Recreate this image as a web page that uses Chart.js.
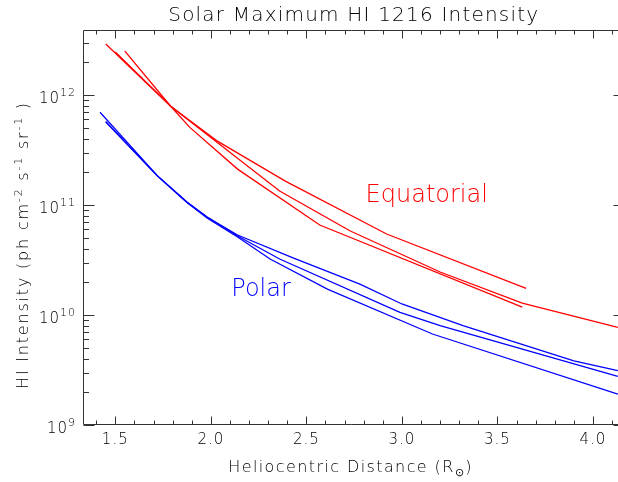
<!DOCTYPE html>
<html>
<head>
<meta charset="utf-8">
<title>Solar Maximum HI 1216 Intensity</title>
<script src="https://cdn.jsdelivr.net/npm/chart.js@4.4.1/dist/chart.umd.min.js"></script>
<style>
    html, body { margin: 0; padding: 0; background: #fff; }
    canvas { display: block; }
</style>
</head>
<body>
<canvas id="intensityChart" width="618" height="482"></canvas>
<script>
// heliocentric distance (R_sun) and HI 1216 intensity (ph cm^-2 s^-1 sr^-1)
const eqDistA = [1.50, 1.79, 2.03, 2.39, 2.92, 3.65];
const eqIntA  = [2.46e12, 7.9e11, 3.85e11, 1.65e11, 5.45e10, 1.75e10];
const eqDistB = [1.55, 1.79, 1.89, 2.14, 2.57, 3.63];
const eqIntB  = [2.51e12, 7.9e11, 5.08e11, 2.12e11, 6.58e10, 1.18e10];
const eqDistC = [1.45, 1.79, 2.36, 2.73, 3.20, 3.63, 4.13];
const eqIntC  = [2.91e12, 7.9e11, 1.34e11, 5.8e10, 2.46e10, 1.285e10, 7.73e9];

const poDistA = [1.42, 1.72, 1.875, 1.98, 2.14, 2.36, 2.99, 3.20, 4.13];
const poIntA  = [6.97e11, 1.85e11, 1.065e11, 7.78e10, 5.23e10, 3.23e10, 1.058e10, 7.99e9, 2.77e9];
const poDistB = [1.45, 1.72, 1.875, 1.98, 2.14, 2.31, 2.61, 3.16, 4.13];
const poIntB  = [5.71e11, 1.84e11, 1.054e11, 7.62e10, 5.12e10, 3.23e10, 1.72e10, 6.72e9, 1.91e9];
const poDistC = [1.45, 1.72, 1.875, 1.98, 2.14, 2.43, 2.78, 3.00, 3.32, 3.90, 4.13];
const poIntC  = [5.71e11, 1.84e11, 1.058e11, 7.78e10, 5.34e10, 3.30e10, 1.91e10, 1.26e10, 7.99e9, 3.82e9, 3.12e9];

const xTickValues = [1.5, 2.0, 2.5, 3.0, 3.5, 4.0];
const yTickValues = [1e9, 1e10, 1e11, 1e12];
const yTickExps   = ['9', '10', '11', '12'];

const FONT = 'DejaVu Sans';
const WEIGHT = 200;
const RED = '#ff0000';
const BLUE = '#0000ff';

const toPoints = (xs, ys) => xs.map((x, i) => ({ x: x, y: ys[i] }));

const curve = (xs, ys, color) => ({
    data: toPoints(xs, ys),
    borderColor: color,
    borderWidth: 1.3,
    pointRadius: 0,
    tension: 0,
    fill: false
});

// draws a run of [text, size, rise] pieces on one baseline
const drawRich = (ctx, parts, x, y, align) => {
    let total = 0;
    parts.forEach(p => {
        ctx.font = `${WEIGHT} ${p[1]}px "${FONT}"`;
        total += ctx.measureText(p[0]).width;
    });
    let cx = align === 'center' ? x - total / 2 : align === 'right' ? x - total : x;
    ctx.textAlign = 'left';
    ctx.textBaseline = 'alphabetic';
    parts.forEach(p => {
        ctx.font = `${WEIGHT} ${p[1]}px "${FONT}"`;
        ctx.fillText(p[0], cx, y - p[2]);
        cx += ctx.measureText(p[0]).width;
    });
};

// IDL-style frame: box, inward ticks, labels, titles and region names
const axisFrame = {
    id: 'axisFrame',
    afterDraw(chart) {
        const { ctx, chartArea, scales } = chart;
        const { left, top, right, bottom } = chartArea;
        const x = scales.x;
        const y = scales.y;
        const L = Math.round(left) + 0.5;
        const R = Math.round(right) + 6.5;   // right axis sits just past the canvas edge
        const T = Math.round(top) + 0.5;
        const B = Math.round(bottom) - 0.5;

        ctx.save();
        ctx.strokeStyle = '#333';
        ctx.lineWidth = 1;
        ctx.beginPath();
        ctx.moveTo(R, T); ctx.lineTo(L, T); ctx.lineTo(L, B); ctx.lineTo(R, B); ctx.lineTo(R, T);

        for (let i = 14; i <= 41; i++) {
            const px = Math.round(x.getPixelForValue(i / 10)) + 0.5;
            const len = i % 5 === 0 ? 8 : 4;
            ctx.moveTo(px, B); ctx.lineTo(px, B - len);
            ctx.moveTo(px, T); ctx.lineTo(px, T + len);
        }
        for (let d = 9; d <= 12; d++) {
            for (let m = 1; m <= 9; m++) {
                const v = m * Math.pow(10, d);
                if (v > y.max) break;
                const py = Math.round(y.getPixelForValue(v)) + 0.5;
                const len = m === 1 ? 11 : 5.5;
                ctx.moveTo(L, py); ctx.lineTo(L + len, py);
                ctx.moveTo(R, py); ctx.lineTo(R - len, py);
            }
        }
        ctx.stroke();

        ctx.fillStyle = '#000';
        ctx.letterSpacing = '1px';

        // tick labels
        xTickValues.forEach(v => {
            drawRich(ctx, [[v.toFixed(1), 15, 0]], x.getPixelForValue(v), 444, 'center');
        });
        yTickValues.forEach((v, i) => {
            drawRich(ctx, [['10', 15, 0], [yTickExps[i], 11, 7]], 76, y.getPixelForValue(v) + 8, 'right');
        });

        // title
        ctx.letterSpacing = '1.2px';
        drawRich(ctx, [['Solar Maximum HI 1216 Intensity', 20, 0]], (left + R) / 2, 21, 'center');

        // axis titles
        ctx.letterSpacing = '1.4px';
        drawRich(ctx, [['Heliocentric Distance (R', 16, 0], ['⊙', 11, -4], [')', 16, 0]], (left + right) / 2, 472, 'center');

        ctx.letterSpacing = '1.8px';
        ctx.save();
        ctx.translate(28, 245);
        ctx.rotate(-Math.PI / 2);
        drawRich(ctx, [
            ['HI Intensity (ph cm', 16, 0], ['-2', 11, 6],
            [' s', 16, 0], ['-1', 11, 6],
            [' sr', 16, 0], ['-1', 11, 6],
            [' )', 16, 0]
        ], 0, 0, 'center');
        ctx.restore();

        // region labels
        ctx.letterSpacing = '0px';
        ctx.fillStyle = RED;
        drawRich(ctx, [['Equatorial', 24, 0]], x.getPixelForValue(2.81), y.getPixelForValue(1.06e11), 'left');
        ctx.fillStyle = BLUE;
        drawRich(ctx, [['Polar', 24, 0]], x.getPixelForValue(2.107), y.getPixelForValue(1.49e10), 'left');
        ctx.restore();
    }
};

const ctx = document.getElementById('intensityChart').getContext('2d');

new Chart(ctx, {
    type: 'line',
    data: {
        datasets: [
            curve(eqDistA, eqIntA, RED),
            curve(eqDistB, eqIntB, RED),
            curve(eqDistC, eqIntC, RED),
            curve(poDistA, poIntA, BLUE),
            curve(poDistB, poIntB, BLUE),
            curve(poDistC, poIntC, BLUE)
        ]
    },
    options: {
        responsive: false,
        animation: false,
        layout: { padding: { left: 0, right: 0, top: 30, bottom: 0 } },
        plugins: {
            legend: { display: false },
            tooltip: { enabled: false },
            title: { display: false }
        },
        scales: {
            x: {
                type: 'linear',
                min: 1.331,
                max: 4.131,
                grid: { display: false },
                border: { display: false },
                ticks: { display: false },
                afterFit: (scale) => { scale.height = 57; }
            },
            y: {
                type: 'logarithmic',
                min: 1e9,
                max: 3.9e12,
                grid: { display: false },
                border: { display: false },
                ticks: { display: false },
                afterFit: (scale) => { scale.width = 83; }
            }
        }
    },
    plugins: [axisFrame]
});
</script>
</body>
</html>
